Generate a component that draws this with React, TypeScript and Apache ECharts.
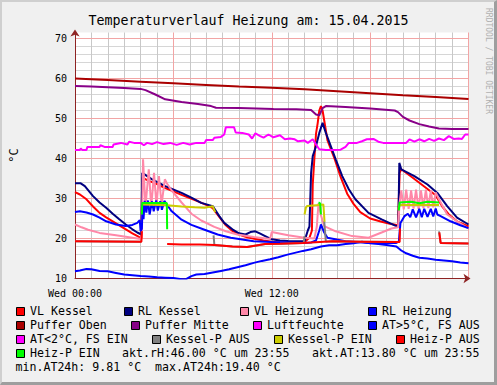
import React, { useEffect, useRef } from 'react';
import * as echarts from 'echarts';

const MONO = "'DejaVu Sans Mono', monospace";
const TITLE = 'Temperaturverlauf Heizung am: 15.04.2015';
const X_LABELS: Record<number, string> = { 0: 'Wed 00:00', 12: 'Wed 12:00' };
const Y_LABELS = [10, 20, 30, 40, 50, 60, 70];
const MINOR_HOURS = [1, 2, 3, 4, 5, 7, 8, 9, 10, 11, 13, 14, 15, 16, 17, 19, 20, 21, 22, 23];

// [hour, °C]
const VL_KESSEL = [[0,31.6],[0.3,31.0],[0.7,29.8],[1.1,28.0],[1.5,26.4],[1.9,25.3],[2.3,24.3],[2.7,23.3],[3.1,22.3],[3.5,21.3],[3.9,20.4],[4.05,20.1],[4.1,35.2],[4.5,34.4],[5.0,33.6],[5.5,32.6],[6.0,31.8],[6.5,30.9],[7.0,30.1],[7.5,29.3],[8.0,28.4],[8.4,27.6],[8.8,25.4],[9.2,23.3],[9.6,21.9],[10.0,21.0],[10.5,20.3],[11.0,19.9],[11.5,19.5],[12.0,19.2],[12.5,19.0],[13.0,18.9],[13.5,18.9],[14.0,19.1],[14.3,20.2],[14.45,22.0],[14.5,33.5],[14.6,40.0],[14.7,46.2],[14.8,48.8],[14.9,52.0],[15.0,53.1],[15.1,52.0],[15.2,49.5],[15.4,44.5],[15.8,40.3],[16.2,35.4],[16.6,31.2],[17.0,28.6],[17.4,26.6],[18.0,25.0],[18.7,24.2],[19.2,23.7],[19.7,23.3],[19.8,36.4],[19.9,37.3],[20.6,35.2],[21.3,33.0],[22.0,30.8],[22.4,28.0],[22.8,26.0],[23.3,24.3],[24.0,23.0]];
const RL_KESSEL = [[0,33.8],[0.35,33.8],[0.6,33.1],[1.1,30.6],[1.5,29.0],[1.9,27.7],[2.3,26.2],[2.7,24.8],[3.1,23.5],[3.5,22.3],[3.8,21.5],[4.05,21.0],[4.1,36.4],[4.7,34.8],[5.5,33.1],[6.5,31.4],[7.1,30.2],[7.7,28.9],[8.4,28.1],[8.8,25.6],[9.1,23.9],[9.6,22.3],[10.0,21.3],[10.4,21.0],[10.7,21.6],[11.0,21.8],[11.3,21.2],[11.6,20.6],[12.0,19.8],[12.5,19.5],[13.0,19.4],[13.6,19.3],[14.0,19.4],[14.2,22.0],[14.3,23.0],[14.35,29.8],[14.4,36.4],[14.5,40.6],[14.7,43.1],[14.9,46.4],[15.1,48.9],[15.3,46.4],[15.6,43.1],[15.9,39.8],[16.3,35.6],[16.7,32.3],[17.1,29.8],[17.9,26.4],[18.7,24.8],[19.6,23.1],[19.72,23.0],[19.78,38.9],[19.9,37.3],[20.7,35.6],[21.5,33.5],[22.1,31.4],[22.7,28.1],[23.3,25.2],[24.0,23.5]];
const VL_HEIZUNG = [[0,23.5],[0.4,22.8],[0.8,22.2],[1.5,21.4],[2.5,20.8],[3.5,20.2],[4.0,19.9],[4.08,21.0],[4.15,39.8],[4.3,28.0],[4.5,37.3],[4.65,27.8],[4.82,36.4],[4.97,28.2],[5.12,35.6],[5.28,28.5],[5.48,34.8],[5.6,33.8],[5.9,32.0],[6.5,29.0],[7.1,26.2],[7.7,24.5],[8.5,22.9],[9.2,21.8],[9.9,21.0],[10.9,20.4],[11.9,19.9],[12.0,21.6],[13.0,20.8],[14.0,20.2],[14.6,20.0],[14.75,23.0],[14.85,28.8],[15.0,25.8],[15.2,23.1],[15.9,21.8],[16.9,20.6],[17.9,20.2],[18.7,21.5],[19.3,22.5],[19.7,22.8],[19.8,29.0],[19.9,32.0],[20.05,27.3],[20.2,32.2],[20.35,27.4],[20.5,32.0],[20.65,27.5],[20.8,32.2],[20.95,27.4],[21.1,32.0],[21.25,27.6],[21.4,32.2],[21.55,27.6],[21.7,32.0],[21.85,27.8],[22.0,31.5],[22.2,29.8],[22.7,26.0],[23.3,24.3],[23.9,22.7],[24,22.6]];
const RL_HEIZUNG = [[0,26.6],[0.3,26.8],[0.7,26.5],[1.1,26.0],[1.5,25.2],[1.9,24.3],[2.5,23.5],[3.1,23.1],[3.5,23.4],[3.8,23.9],[3.95,24.6],[4.0,21.8],[4.08,22.5],[4.12,28.5],[4.18,24.8],[4.25,29.4],[4.35,26.5],[4.45,29.5],[4.55,26.0],[4.7,29.3],[4.8,26.8],[4.95,29.5],[5.05,27.0],[5.2,29.3],[5.3,27.2],[5.45,29.4],[5.6,28.5],[5.9,26.8],[6.5,24.7],[7.1,23.4],[7.9,22.2],[8.7,21.0],[9.5,20.2],[10.9,19.3],[12.0,19.1],[13.0,19.0],[13.9,18.9],[14.4,19.0],[14.7,19.5],[14.9,22.0],[15.0,23.5],[15.2,21.5],[15.4,20.2],[16.5,19.3],[17.9,18.9],[19.6,18.9],[19.75,19.2],[19.85,23.9],[20.1,25.6],[20.3,26.2],[20.45,25.3],[20.6,27.3],[20.8,25.3],[21.0,27.4],[21.15,25.3],[21.3,27.4],[21.5,25.4],[21.7,27.4],[21.85,25.5],[22.0,27.5],[22.1,26.0],[22.3,25.6],[22.9,24.3],[23.5,23.3],[24,22.6]];
const PUFFER_OBEN = [[0,60.0],[2,59.6],[4,59.2],[6,58.8],[8,58.4],[10,58.0],[12,57.7],[14,57.3],[16,56.8],[18,56.3],[20,55.8],[22,55.4],[24,54.9]];
const PUFFER_MITTE = [[0,58.1],[1,58.0],[2,57.8],[3,57.6],[4.0,57.4],[4.3,57.1],[4.9,56.0],[5.5,54.8],[6.5,54.1],[7.5,53.6],[8.3,53.1],[8.6,52.7],[10.0,52.6],[12.1,52.4],[13.5,52.3],[14.4,52.1],[14.7,51.0],[14.9,50.8],[15.1,52.6],[15.3,53.1],[16.5,52.9],[18.0,52.5],[19.5,52.0],[19.7,51.6],[20.0,50.4],[20.4,49.5],[21.0,48.6],[21.6,48.0],[22.2,47.5],[23.0,47.4],[24,47.4]];
const LUFTFEUCHTE = [[0,42.1],[0.3,42.1],[0.35,42.5],[0.45,42.1],[0.7,42.1],[0.75,42.9],[1.5,42.9],[1.55,43.3],[1.8,42.9],[2.3,42.9],[2.35,43.5],[2.8,43.9],[3.2,43.5],[3.3,44.2],[3.6,43.9],[4.0,43.9],[4.2,43.3],[4.4,43.9],[4.7,43.6],[5.0,44.1],[5.4,43.6],[5.8,43.9],[6.2,43.4],[6.6,43.9],[7.0,43.5],[7.4,43.9],[7.9,43.9],[8.0,44.6],[8.4,44.6],[8.5,45.2],[8.9,45.4],[9.1,46.0],[9.2,47.8],[9.7,47.8],[9.8,46.5],[10.2,46.4],[10.6,46.0],[10.8,45.0],[11.0,46.3],[11.3,45.6],[11.5,45.2],[11.8,46.0],[12.1,45.3],[12.5,45.8],[12.8,44.8],[13.1,45.0],[13.4,44.8],[13.6,44.3],[14.0,44.5],[14.2,43.9],[14.5,44.8],[14.7,43.5],[14.9,42.3],[15.3,42.1],[15.8,42.1],[16.2,42.2],[16.5,42.9],[16.7,43.9],[17.2,43.9],[17.5,44.3],[17.8,44.8],[18.2,44.9],[18.5,44.2],[18.8,43.9],[19.3,43.9],[19.8,43.9],[20.2,43.9],[20.4,44.8],[20.7,44.2],[21.0,44.8],[21.3,44.3],[21.6,44.9],[21.9,44.4],[22.2,45.0],[22.5,44.6],[22.8,45.6],[23.1,44.9],[23.4,45.0],[23.6,44.9],[23.8,46.0],[24,46.0]];
const AT_ABOVE_5 = [[0,11.8],[0.3,12.0],[0.7,12.4],[1.0,12.3],[1.5,11.9],[2.0,11.8],[2.5,11.4],[3.0,11.0],[3.5,10.8],[4.0,10.6],[4.5,10.5],[5.0,10.3],[5.5,10.2],[6.0,10.1],[6.5,9.8],[6.8,9.9],[7.1,10.6],[7.4,11.0],[7.9,11.1],[8.4,11.5],[8.9,11.9],[9.4,12.3],[9.9,12.8],[10.4,13.3],[10.9,13.9],[11.4,14.4],[11.9,14.8],[12.4,15.3],[12.9,15.9],[13.4,16.4],[13.9,16.9],[14.4,17.3],[15.0,18.0],[15.5,18.3],[16.0,18.3],[16.5,18.6],[17.0,18.8],[17.5,19.2],[18.0,18.8],[18.5,18.6],[19.0,18.4],[19.6,18.0],[19.9,17.0],[20.2,16.3],[20.6,15.7],[21.0,15.2],[21.5,15.0],[22.0,14.7],[22.5,14.5],[23.0,14.3],[23.5,14.0],[24,13.8]];
const AT_BELOW_2: number[][] = [];
const KESSEL_P_AUS = [[[0,19.3],[4.05,19.2]],[[8.45,20.8],[8.5,18.4],[9.6,18.0],[10.5,17.9],[11.6,18.6],[12.5,18.7],[13.9,18.9],[13.95,18.9],[14.0,20.6]],[[15.2,24.3],[15.3,19.2],[15.7,19.3],[17.5,19.2],[19.7,19.1]],[[22.2,21.8],[22.3,18.9],[24,18.75]]];
const KESSEL_P_EIN = [[[4.1,28.5],[5.6,28.3],[6.5,28.0],[7.3,27.8],[7.9,27.7],[8.3,28.0],[8.4,28.1],[8.55,26.6]],[[14.0,26.0],[14.08,27.7],[14.15,28.1],[14.9,28.4],[15.15,28.5],[15.22,24.2]],[[19.72,27.2],[19.8,28.4],[22.2,28.4]]];
const HEIZ_P_AUS = [[[0,19.3],[4.05,19.2],[4.08,21.8]],[[5.62,18.6],[6.5,18.5],[7.6,18.5],[8.5,18.4],[9.6,18.0],[10.5,17.9],[11.6,18.6],[12.5,18.7],[13.9,18.9],[15.7,19.3],[17.5,19.2],[19.8,19.1],[19.82,22.5]],[[22.22,21.5],[22.3,18.9],[24,18.75]]];
const HEIZ_P_EIN = [[[4.08,26.0],[4.1,28.9],[5.6,28.9],[5.62,22.3]],[[14.85,29.0],[14.95,28.8],[15.0,26.0]],[[19.75,27.0],[19.8,29.0],[20.5,29.2],[21.0,28.8],[21.5,29.2],[22.2,29.0]]];

const NOTES = ['akt.rH:46.00 °C um 23:55', 'akt.AT:13.80 °C um 23:55', 'min.AT24h: 9.81 °C  max.AT24h:19.40 °C'];

const SERIES: [string, string, any][] = [
  ['VL Kessel', '#FF0000', VL_KESSEL],
  ['RL Kessel', '#000080', RL_KESSEL],
  ['VL Heizung', '#FF88A8', VL_HEIZUNG],
  ['RL Heizung', '#0000FF', RL_HEIZUNG],
  ['Puffer Oben', '#AA0000', PUFFER_OBEN],
  ['Puffer Mitte', '#880088', PUFFER_MITTE],
  ['Luftfeuchte', '#FF00FF', LUFTFEUCHTE],
  ['AT>5°C, FS AUS', '#0000FF', AT_ABOVE_5],
  ['AT<2°C, FS EIN', '#FF00FF', AT_BELOW_2],
  ['Kessel-P AUS', '#808080', KESSEL_P_AUS],
  ['Kessel-P EIN', '#CCCC00', KESSEL_P_EIN],
  ['Heiz-P AUS', '#FF0000', HEIZ_P_AUS],
  ['Heiz-P EIN', '#00FF00', HEIZ_P_EIN],
];

// legend layout: swatch x, row
const LEGEND_POS = [[16,0],[124,0],[240,0],[368,0],[16,1],[131,1],[253,1],[368,1],[16,2],[152,2],[274,2],[396,2],[16,3]];
const ROW_Y = [311, 325, 339, 353, 367];

const MAJOR = '#F2A5A5';
const MINOR = '#D6D6D6';
const MINOR_V = '#C8C8C8';
const AXIS = '#8E2323';

function flatten(d: any): any[] {
  if (d.length && Array.isArray(d[0]) && Array.isArray(d[0][0])) {
    const out: any[] = [];
    d.forEach((seg: any[], i: number) => {
      if (i > 0) out.push([seg[0][0], '-']);
      seg.forEach((p: any) => out.push(p));
    });
    return out;
  }
  return d;
}

export default function App() {
  const ref = useRef<HTMLDivElement>(null);
  useEffect(() => {
    if (!ref.current) return;
    const chart = echarts.init(ref.current, undefined, { renderer: 'svg' });
    const graphic: any[] = [];
    SERIES.forEach(([name, color], i) => {
      const [sx, row] = LEGEND_POS[i];
      const cy = ROW_Y[row];
      graphic.push({ type: 'rect', shape: { x: sx + 0.5, y: cy - 3.5, width: 8, height: 8 }, style: { fill: color, stroke: '#000', lineWidth: 1 } });
      graphic.push({ type: 'text', x: sx + 14, y: cy, style: { text: name, fontFamily: MONO, fontSize: 11.6, fill: '#000', verticalAlign: 'middle', align: 'left' } });
    });
    graphic.push({ type: 'text', x: 122, y: ROW_Y[3], style: { text: NOTES[0], fontFamily: MONO, fontSize: 11.6, fill: '#000', verticalAlign: 'middle' } });
    graphic.push({ type: 'text', x: 312, y: ROW_Y[3], style: { text: NOTES[1], fontFamily: MONO, fontSize: 11.6, fill: '#000', verticalAlign: 'middle' } });
    graphic.push({ type: 'text', x: 15.5, y: ROW_Y[4], style: { text: NOTES[2], fontFamily: MONO, fontSize: 11.6, fill: '#000', verticalAlign: 'middle' } });
    graphic.push({ type: 'text', x: 488, y: 8, rotation: -Math.PI / 2, style: { text: 'RRDTOOL / TOBI OETIKER', fontFamily: MONO, fontSize: 8, fill: '#B0B0B0', verticalAlign: 'middle', align: 'left' } });

    const hidden = { axisLine: { show: false }, axisTick: { show: false }, axisLabel: { show: false } };

    const series: any[] = SERIES.map(([name, color, data]) => ({
      name, type: 'line', xAxisIndex: 0, yAxisIndex: 0, data: flatten(data), symbol: 'none', showSymbol: false, connectNulls: false,
      lineStyle: { color, width: 2 }, itemStyle: { color }, emphasis: { disabled: true }, silent: true, z: 3,
    }));
    series[0].markLine = {
      silent: true, symbol: ['none', 'none'], z: 1, animation: false,
      label: { show: false },
      lineStyle: { color: MINOR_V, width: 1, type: 'solid' },
      emphasis: { disabled: true },
      data: MINOR_HOURS.map((h) => ({ xAxis: h })),
    };

    chart.setOption({
      animation: false,
      backgroundColor: '#F0F0F0',
      title: { text: TITLE, left: 'center', top: 9, textStyle: { fontFamily: MONO, fontSize: 13.3, fontWeight: 'normal', color: '#000' } },
      grid: { left: 68.5, top: 32.5, width: 400, height: 246, show: true, backgroundColor: '#FFFFFF', borderWidth: 0 },
      xAxis: [
        {
          type: 'value', min: 0, max: 24, interval: 6, z: 2,
          axisLine: { show: true, onZero: false, lineStyle: { color: AXIS, width: 1 }, symbol: ['none', 'arrow'], symbolSize: [7, 7], symbolOffset: [0, 2] },
          axisTick: { show: false },
          axisLabel: { formatter: (v: number) => X_LABELS[v] || '', margin: 10, fontFamily: MONO, fontSize: 10, color: '#000' },
          splitLine: { show: true, lineStyle: { color: MAJOR, width: 1 } },
        },
      ],
      yAxis: [
        {
          type: 'value', min: 10, max: 71.5, interval: 10, z: 2,
          name: '°C', nameLocation: 'middle', nameGap: 55, nameTextStyle: { fontFamily: MONO, fontSize: 12, color: '#000' },
          axisLine: { show: true, onZero: false, lineStyle: { color: AXIS, width: 1 }, symbol: ['none', 'arrow'], symbolSize: [7, 7], symbolOffset: [0, 3] },
          axisTick: { show: false },
          axisLabel: { formatter: (v: number) => (Y_LABELS.indexOf(v) >= 0 ? String(v) : ''), margin: 8, fontFamily: MONO, fontSize: 10, color: '#000' },
          splitLine: { show: true, showMaxLine: false, lineStyle: { color: MAJOR, width: 1 } },
        },
        { type: 'value', min: 10, max: 71.5, interval: 2, z: 0, position: 'right', ...hidden, splitLine: { show: true, showMaxLine: false, lineStyle: { color: MINOR, width: 1 } } },
      ],
      graphic,
      series,
    });
    return () => chart.dispose();
  }, []);
  return (
    <div style={{ position: 'absolute', left: 0, top: 0, width: 497, height: 385 }}>
      <div ref={ref} style={{ position: 'absolute', left: 0, top: 0, width: 497, height: 385 }} />
      <div style={{ position: 'absolute', left: 0, top: 0, width: 497, height: 385, boxSizing: 'border-box', borderTop: '2px solid #CFCFCF', borderLeft: '2px solid #CFCFCF', borderRight: '3px solid #9E9E9E', borderBottom: '3px solid #9E9E9E', pointerEvents: 'none' }} />
    </div>
  );
}
